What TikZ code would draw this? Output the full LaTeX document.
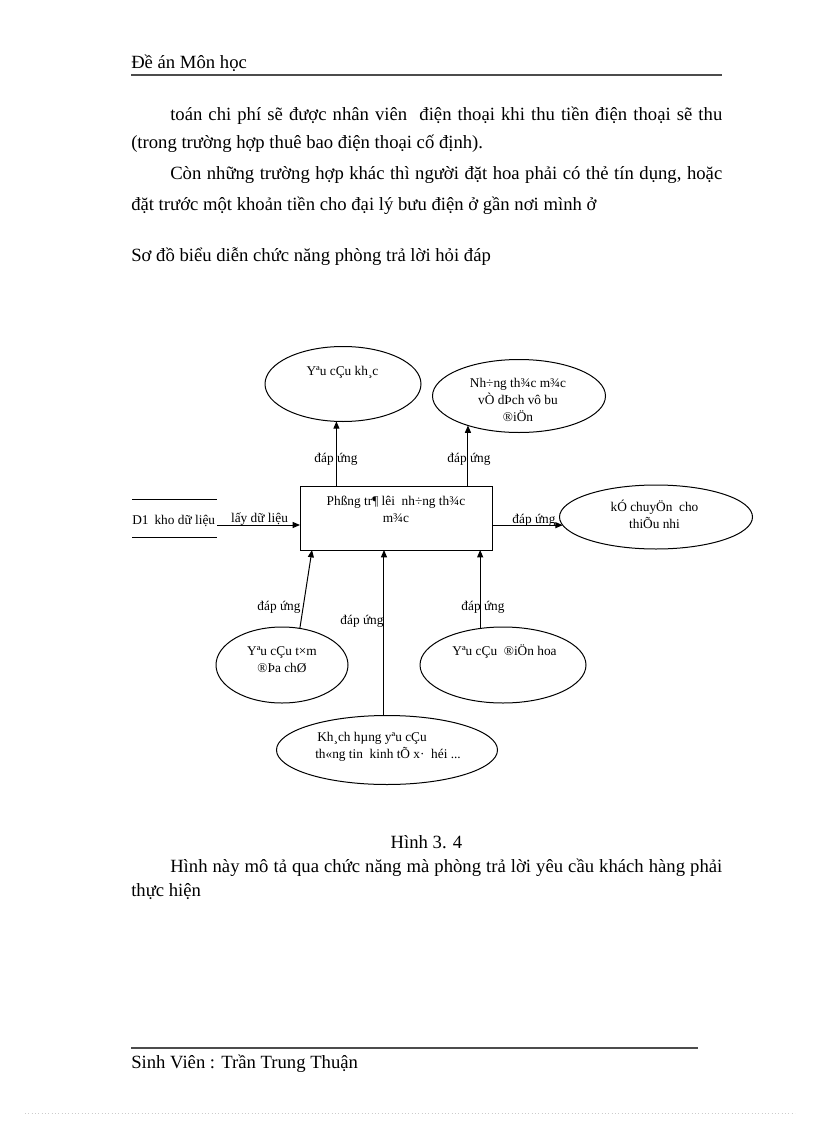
\documentclass[tikz,border=0pt]{standalone}
\usepackage{fontspec}
\setmainfont{Liberation Serif}
\usetikzlibrary{shapes.geometric,arrows.meta,calc}
\newcommand\pxu{0.75pt}
\begin{document}
\begin{tikzpicture}[x=0.75pt,y=-0.75pt]
\tikzset{
  body/.style={font=\fontsize{14}{17}\selectfont, inner sep=0pt, anchor=base west},
  dtxt/.style={font=\fontsize{10}{12.75}\selectfont, inner sep=0pt, align=center},
  lbl/.style={font=\fontsize{10}{12}\selectfont, inner sep=0pt},
  ell/.style={draw, ellipse, line width=0.75pt, inner sep=0pt, outer sep=0pt},
  procbox/.style={draw, rectangle, line width=0.75pt, inner sep=0pt, outer sep=0pt},
  arr/.style={line width=0.75pt, -{Triangle[length=5.5pt,width=4.5pt]}},
  rulegray/.style={line width=1.5pt, draw=black!70},
}
\fill[white] (0,0) rectangle (816,1123);
\useasboundingbox (0,0) rectangle (816,1123);

% header
\node[body] (hdr) at (131,69) {Đề án Môn học};
\coordinate (hrl) at (131,75);
\coordinate (hrr) at (722,75);
\draw[rulegray] (hrl) -- (hrr);

% body text
\node[body] (p1) at (170,121) {\makebox[414pt][s]{toán chi phí sẽ được nhân viên\ \ điện thoại khi thu tiền điện thoại sẽ thu}};
\node[body] (p2) at (131,149) {(trong trường hợp thuê bao điện thoại cố định).};
\node[body] (p3) at (170,180) {\makebox[414pt][s]{Còn những trường hợp khác thì người đặt hoa phải có thẻ tín dụng, hoặc}};
\node[body] (p4) at (131,210) {đặt trước một khoản tiền cho đại lý bưu điện ở gần nơi mình ở};
\node[body] (p5) at (131,262) {Sơ đồ biểu diễn chức năng phòng trả lời hỏi đáp};

% diagram nodes
\node[ell, minimum width=156*\pxu, minimum height=75*\pxu] (e1) at (343,384) {};
\node[ell, minimum width=173*\pxu, minimum height=73*\pxu] (e2) at (519,396) {};
\node[procbox, minimum width=192*\pxu, minimum height=64*\pxu] (box) at (396,518) {};
\node[ell, minimum width=193*\pxu, minimum height=64*\pxu] (e6) at (656,517) {};
\node[ell, minimum width=132*\pxu, minimum height=76*\pxu] (e3) at (282,665) {};
\node[ell, minimum width=166*\pxu, minimum height=76*\pxu] (e4) at (503,665) {};
\node[ell, minimum width=221*\pxu, minimum height=69*\pxu] (e5) at (387,750) {};
\node[inner sep=0pt, outer sep=0pt, minimum width=85*\pxu, minimum height=38*\pxu] (ds) at (174.5,518) {};
\draw[line width=0.75pt] (ds.north west) -- (ds.north east);
\draw[line width=0.75pt] (ds.south west) -- (ds.south east);

% texts in shapes
\node[dtxt] (t1) at (342.5,372) {Yªu cÇu kh¸c};
\node[dtxt] (t2) at (518,399.5) {Nh÷ng th¾c m¾c\\vÒ dÞch vô bu\\®iÖn};
\node[dtxt] (tb) at (396,509.5) {Phßng tr¶ lêi\ \ nh÷ng th¾c\\m¾c};
\node[dtxt] (t6) at (654.5,514) {kÓ chuyÖn\ \ cho\\thiÕu nhi};
\node[dtxt] (t3) at (282,659.5) {Yªu cÇu t×m\\®Þa chØ};
\node[dtxt] (t4) at (504.5,652) {Yªu cÇu\ \ ®iÖn hoa};
\node[dtxt, align=left, anchor=west] (t5) at (315,747) {\hspace{1.5pt}Kh¸ch hµng yªu cÇu\\th«ng tin\ \ kinh tÕ x·\ \ héi ...};
\node[dtxt, anchor=west] (dst) at (132,521) {D1\hspace{4.5pt}kho dữ liệu};

% connectors
\coordinate (dsout) at (217,525);
\draw[arr] (dsout) -- (box.west |- dsout);
\draw[arr] (box.north -| e1.260) -- (e1.260);
\draw[arr] (box.north -| e2.210) -- (e2.210);
\draw[arr] (box.east |- e6.185) -- (e6.185);
\draw[arr] (e3.64) -- ($(box.south west)+(12,0)$);
\draw[arr] (e5.95) -- (box.south -| e5.95);
\draw[arr] (e4.122) -- (box.south -| e4.122);

% connector labels
\node[lbl] (llay) at (259.5,519) {lấy dữ liệu};
\node[lbl] (l1) at (336,459) {đáp ứng};
\node[lbl] (l2) at (469,459) {đáp ứng};
\node[lbl] (l3) at (534,520) {đáp ứng};
\node[lbl] (l4) at (279,607) {đáp ứng};
\node[lbl] (l5) at (362,621) {đáp ứng};
\node[lbl] (l6) at (483,607) {đáp ứng};

% caption
\node[body, anchor=base] (cap) at (426.5,848) {Hình 3. 4};
\node[body] (p6) at (170,872) {\makebox[414pt][s]{Hình này mô tả qua chức năng mà phòng trả lời yêu cầu khách hàng phải}};
\node[body] (p7) at (131,896) {thực hiện};

% footer
\coordinate (frl) at (131,1048);
\coordinate (frr) at (698,1048);
\draw[rulegray] (frl) -- (frr);
\node[body] (ftr) at (131,1068) {Sinh Viên : Trần Trung Thuận};
\coordinate (dl) at (25,1113);
\coordinate (dr) at (795,1113);
\draw[black!20, line width=0.5pt, dotted] (dl) -- (dr);
\end{tikzpicture}
\end{document}
